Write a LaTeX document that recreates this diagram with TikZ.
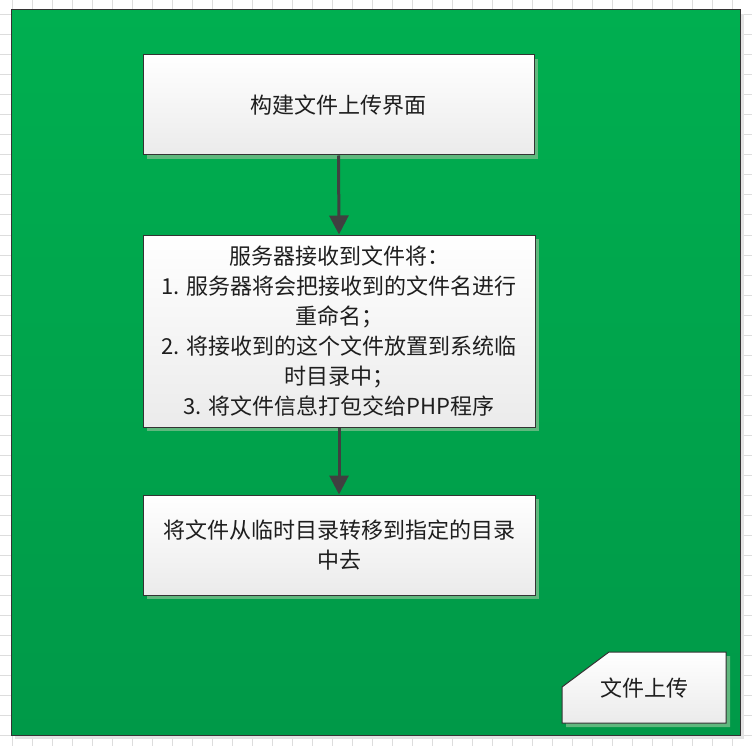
\documentclass[tikz,border=0pt]{standalone}
\usepackage{fontspec}
\setmainfont{Noto Sans CJK SC}
\usetikzlibrary{arrows.meta,shadows}
\definecolor{gridc}{RGB}{221,221,221}
\definecolor{greentop}{RGB}{0,175,80}
\definecolor{greenbot}{RGB}{0,153,72}
\definecolor{edgec}{RGB}{51,51,51}
\definecolor{shadowc}{RGB}{96,184,126}
\definecolor{boxbot}{RGB}{235,235,235}
\definecolor{arrc}{RGB}{64,64,64}
\definecolor{txtc}{RGB}{30,30,30}
\tikzset{
  stepbox/.style={draw=edgec, line width=1pt, top color=white, bottom color=boxbot,
    align=center, text=txtc, inner sep=0pt,
    font=\fontsize{22}{30}\selectfont,
    drop shadow={shadow xshift=4pt, shadow yshift=-4pt, fill=shadowc, opacity=1}},
  arr/.style={draw=arrc, line width=3pt, -{Triangle[width=19pt,length=19pt]}, shorten >=0pt},
}
\begin{document}
\begin{tikzpicture}[x=1pt,y=-1pt]
\useasboundingbox (0,0) rectangle (752,746);
% grid background
\foreach \gx in {12,32,...,752} \draw[gridc, line width=1pt] (\gx,0) -- (\gx,746);
\foreach \gy in {15,35,...,746} \draw[gridc, line width=1pt] (0,\gy) -- (752,\gy);
% container shadow and container
\fill[gray!22] (15,14) rectangle (744,739);
\shade[top color=greentop, bottom color=greenbot] (11,10) rectangle (740,735);
\draw[edgec, line width=1pt] (11,10) rectangle (740,735);
% boxes
\node[stepbox, minimum width=391pt, minimum height=100pt] (b1) at (338.5,105) {构建文件上传界面};
\node[stepbox, minimum width=392pt, minimum height=192pt] (b2) at (339,331) {服务器接收到文件将：\\1. 服务器将会把接收到的文件名进行\\重命名；\\2. 将接收到的这个文件放置到系统临\\时目录中；\\3. 将文件信息打包交给PHP程序};
\node[stepbox, minimum width=392pt, minimum height=100pt] (b3) at (339,545) {将文件从临时目录转移到指定的目录\\中去};
% arrows
\draw[arr] (b1.south) -- (b2.north);
\draw[arr] (b2.south) -- (b3.north);
% note with cut corner
\fill[shadowc] (566,691) -- (613,656) -- (730,656) -- (730,727) -- (566,727) -- cycle;
\shade[top color=white, bottom color=boxbot] (562,687) -- (609,652) -- (726,652) -- (726,723) -- (562,723) -- cycle;
\draw[edgec, line width=1pt] (562,687) -- (609,652) -- (726,652) -- (726,723) -- (562,723) -- cycle;
\node[text=txtc, font=\fontsize{22}{30}\selectfont, inner sep=0pt] (note) at (644,688) {文件上传};
\end{tikzpicture}
\end{document}
